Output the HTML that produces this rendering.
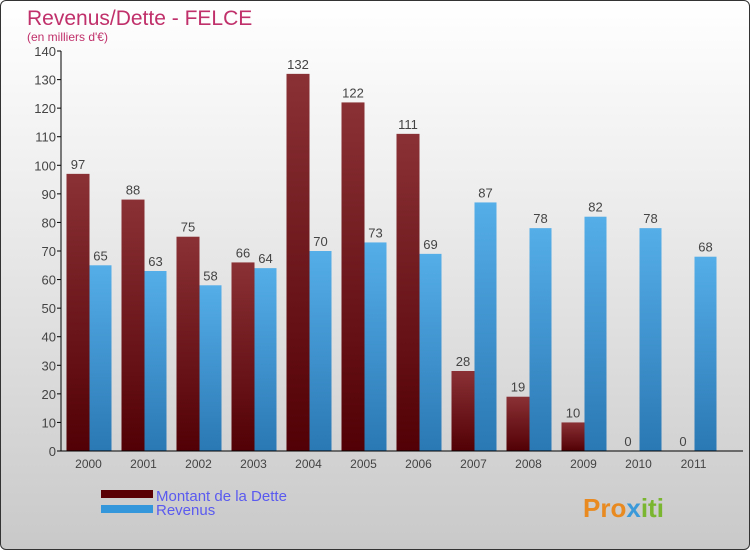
<!DOCTYPE html>
<html><head><meta charset="utf-8"><style>
body{margin:0;width:750px;height:550px;overflow:hidden}
#c{position:absolute;left:0;top:0;width:748px;height:548px;border:1px solid #333;border-radius:6px;background:linear-gradient(#fff 0%,#f0f0f0 30%,#c9c9c9 100%);overflow:hidden}
text{font-family:"Liberation Sans",sans-serif}
</style></head><body>
<div id="c">
<svg id="s" width="750" height="550">
<defs>
<linearGradient id="gd" x1="0" y1="0" x2="0" y2="1"><stop offset="0" stop-color="#8a3135"/><stop offset="1" stop-color="#520005"/></linearGradient>
<linearGradient id="gr" x1="0" y1="0" x2="0" y2="1"><stop offset="0" stop-color="#55aee8"/><stop offset="1" stop-color="#2a78b4"/></linearGradient>
</defs>
<text x="26" y="24" font-size="21" fill="#c0306a">Revenus/Dette - FELCE</text>
<text x="26" y="40" font-size="12" fill="#c0306a">(en milliers d'€)</text>
<g id="plot"></g>
<rect x="100" y="489" width="52" height="8" fill="#5a0005"/>
<rect x="100" y="504" width="52" height="8" fill="#3497dc"/>
<text x="155" y="500" font-size="15" fill="#5a5af0">Montant de la Dette</text>
<text x="155" y="514" font-size="15" fill="#5a5af0">Revenus</text>
<text x="582" y="516" font-size="26" font-weight="bold" fill="#e88a20">Pro<tspan fill="#3a9ad9">x</tspan><tspan fill="#7bb631">iti</tspan></text>
</svg></div>
<script>
const years=["2000","2001","2002","2003","2004","2005","2006","2007","2008","2009","2010","2011"];
const dette=[97,88,75,66,132,122,111,28,19,10,0,0];
const revenus=[65,63,58,64,70,73,69,87,78,82,78,68];
const yTicks=[0,10,20,30,40,50,60,70,80,90,100,110,120,130,140];
const NS="http://www.w3.org/2000/svg";
const g=document.getElementById('plot');
const x0=60,y0=450,yTop=50,yMax=140,step=55;
const y=v=>y0-(v/yMax)*(y0-yTop);
const xc=i=>x0+step*i+27.5;
function mk(t,a){const e=document.createElementNS(NS,t);for(const k in a)e.setAttribute(k,a[k]);g.appendChild(e);return e;}
yTicks.forEach(v=>{
 const l=mk('line',{x1:x0-4,x2:x0,y1:y(v),y2:y(v),stroke:'#000'});
 
 
 const t=mk('text',{x:x0-5,y:y(v)+5,'font-size':13,'text-anchor':'end',fill:'#444'});t.textContent=v;
 
 
});
years.forEach((yr,i)=>{
 const c=xc(i);
 const b1=mk('rect',{x:c-22,y:y(dette[i]),width:23,height:y0-y(dette[i]),fill:'url(#gd)'});
 
 
 const b2=mk('rect',{x:c+1,y:y(revenus[i]),width:22,height:y0-y(revenus[i]),fill:'url(#gr)'});
 
 
 const t1=mk('text',{x:c-10.5,y:y(dette[i])-5,'font-size':13,'text-anchor':'middle',fill:'#444'});t1.textContent=dette[i];
 
 
 const t2=mk('text',{x:c+12,y:y(revenus[i])-5,'font-size':13,'text-anchor':'middle',fill:'#444'});t2.textContent=revenus[i];
 
 
 const tl=mk('text',{x:c,y:467,'font-size':12,'text-anchor':'middle',fill:'#444'});tl.textContent=yr;
 
 
});
const ya=mk('line',{x1:x0,x2:x0,y1:yTop,y2:y0,stroke:'#000'});


const xa=mk('line',{x1:x0,x2:742,y1:y0,y2:y0,stroke:'#000'});


</script>
</body></html>
